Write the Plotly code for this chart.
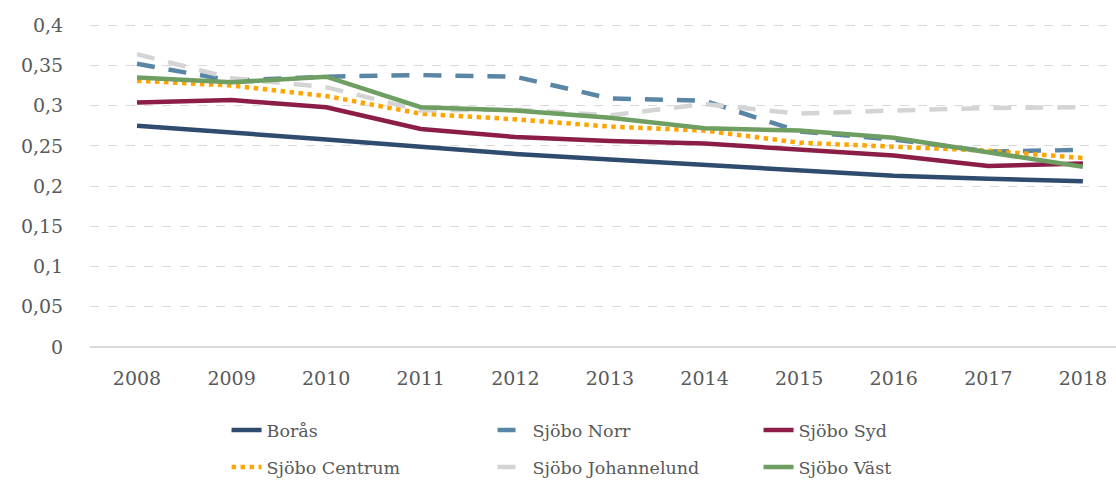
import plotly.graph_objects as go

years = [2008, 2009, 2010, 2011, 2012, 2013, 2014, 2015, 2016, 2017, 2018]

boras = [0.275, 0.267, 0.258, 0.249, 0.240, 0.233, 0.226, 0.219, 0.213, 0.209, 0.206]
sjobo_norr = [0.352, 0.331, 0.336, 0.338, 0.336, 0.309, 0.306, 0.268, 0.258, 0.243, 0.245]
sjobo_syd = [0.304, 0.307, 0.298, 0.271, 0.261, 0.256, 0.253, 0.245, 0.238, 0.225, 0.228]
sjobo_centrum = [0.331, 0.325, 0.312, 0.290, 0.283, 0.274, 0.269, 0.254, 0.249, 0.244, 0.235]
sjobo_johannelund = [0.364, 0.334, 0.323, 0.294, 0.295, 0.288, 0.302, 0.290, 0.294, 0.297, 0.298]
sjobo_vast = [0.335, 0.329, 0.336, 0.298, 0.294, 0.285, 0.272, 0.269, 0.260, 0.242, 0.224]

y_tickvals = [0, 0.05, 0.1, 0.15, 0.2, 0.25, 0.3, 0.35, 0.4]
y_ticktext = ["0", "0,05", "0,1", "0,15", "0,2", "0,25", "0,3", "0,35", "0,4"]

series = [
    ("Borås", boras, "#2F4B6E", "solid", "legend"),
    ("Sjöbo Norr", sjobo_norr, "#5A86A5", "18px,14px", "legend"),
    ("Sjöbo Syd", sjobo_syd, "#8C1D47", "solid", "legend"),
    ("Sjöbo Centrum", sjobo_centrum, "#FFA500", "dot", "legend2"),
    ("Sjöbo Johannelund", sjobo_johannelund, "#D4D4D4", "18px,14px", "legend2"),
    ("Sjöbo Väst", sjobo_vast, "#6E9E62", "solid", "legend2"),
]

fig = go.Figure()
for name, vals, color, dash, leg in series:
    fig.add_trace(go.Scatter(
        x=years, y=vals, name=name, mode="lines",
        line=dict(color=color, width=4.5, dash=dash),
        legend=leg,
    ))

font_family = "DejaVu Serif"
text_color = "#595959"

legend_common = dict(
    orientation="h", xref="container", yref="container",
    x=0.203, xanchor="left", yanchor="middle",
    entrywidth=221, entrywidthmode="pixels",
    font=dict(family=font_family, size=17.5, color=text_color),
    bgcolor="rgba(0,0,0,0)",
)

fig.update_layout(
    width=1116, height=481,
    paper_bgcolor="white", plot_bgcolor="white",
    margin=dict(l=90, r=0, t=24, b=134),
    font=dict(family=font_family, size=19, color=text_color),
    showlegend=True,
    legend=dict(y=(481 - 430) / 481, **legend_common),
    legend2=dict(y=(481 - 467) / 481, **legend_common),
)
fig.update_xaxes(
    range=[2007.503, 2018.35],
    tickvals=years, ticktext=[str(y) for y in years],
    showgrid=False, zeroline=False, showline=False,
    ticks="outside", ticklen=14, tickcolor="rgba(0,0,0,0)",
    tickfont=dict(family=font_family, size=19, color=text_color),
)
fig.update_yaxes(
    range=[0, 0.4015],
    tickvals=y_tickvals, ticktext=y_ticktext,
    showgrid=True, gridcolor="#D9D9D9", griddash="dash", gridwidth=1,
    zeroline=True, zerolinecolor="#D9D9D9", zerolinewidth=1.5,
    ticks="outside", ticklen=22, tickcolor="rgba(0,0,0,0)",
    tickfont=dict(family=font_family, size=19, color=text_color),
)

fig.write_html(
    "out.html",
    config={"displayModeBar": False},
    post_script="document.body.style.margin='0';",
)
